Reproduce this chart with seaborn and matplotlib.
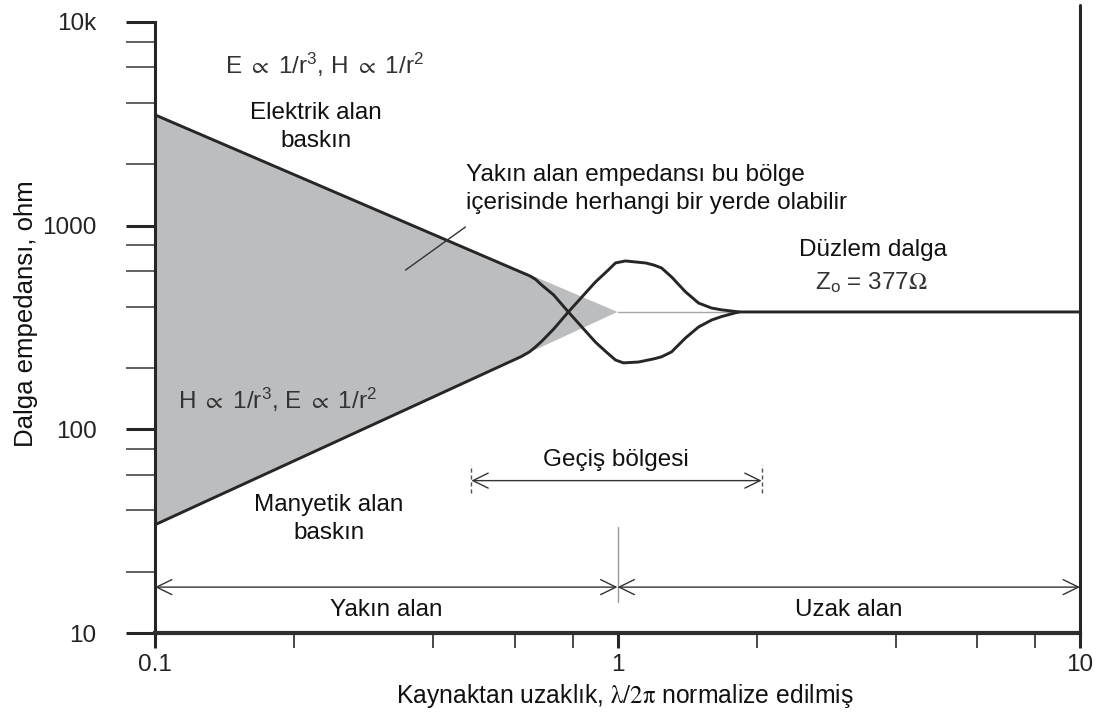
import matplotlib
matplotlib.use("Agg")
import matplotlib.pyplot as plt
from matplotlib.ticker import FixedLocator, FixedFormatter, LogLocator, NullFormatter
import seaborn as sns

# Wave impedance versus normalized distance from the source
z0 = 377  # plane-wave impedance, ohm

# Electric-field-dominated source (high impedance, falling toward Z0)
upper_x = [0.1, 0.62, 0.645, 0.665, 0.685, 0.727, 0.783, 0.896, 0.951, 0.99,
           1.03, 1.11, 1.2, 1.245, 1.309, 1.403, 1.497, 1.597, 1.68, 1.765,
           1.83, 10.0]
upper_y = [3500, 590, 568, 545, 512, 458, 377, 268, 237, 219,
           212, 214, 222, 227, 240, 281, 318, 344, 358, 369,
           377, 377]

# Magnetic-field-dominated source (low impedance, rising toward Z0)
lower_x = [0.1, 0.62, 0.645, 0.665, 0.685, 0.727, 0.783, 0.896, 0.951, 0.99,
           1.04, 1.15, 1.2, 1.245, 1.309, 1.403, 1.497, 1.597, 1.68, 1.765,
           1.83]
lower_y = [34, 228, 240, 254, 270, 310, 377, 529, 600, 656,
           671, 656, 640, 620, 560, 473, 417, 394, 386, 381,
           377]

# Near-field region where the impedance may lie anywhere
region_x = [0.1, 1.0, 0.1]
region_y = [3500, 377, 34]

x_ticks = [0.1, 1, 10]
x_tick_labels = ["0.1", "1", "10"]
y_ticks = [10, 100, 1000, 10000]
y_tick_labels = ["10", "100", "1000", "10k"]

near_far_boundary = 1.0
transition_start, transition_end = 0.483, 2.05

sns.set_theme(style="white")
plt.rcParams["font.family"] = ["Liberation Sans", "DejaVu Sans"]
plt.rcParams["mathtext.fontset"] = "stix"
plt.rcParams["mathtext.default"] = "regular"

ink = "#262626"
txt = "#111111"

fig = plt.figure(figsize=(11.13, 7.13), dpi=100)
ax = fig.add_axes([155 / 1113, 80 / 713, 925 / 1113, 611 / 713])
ax.set_xscale("log")
ax.set_yscale("log")

ax.fill(region_x, region_y, color="#bcbdbf", lw=0, zorder=1)
ax.plot([near_far_boundary, upper_x[-2]], [z0, z0], color="#a6a6a6", lw=1.0, zorder=2)
line_kw = dict(sort=False, estimator=None, color=ink, lw=2.1, ax=ax, zorder=3)
sns.lineplot(x=upper_x, y=upper_y, **line_kw)
sns.lineplot(x=lower_x, y=lower_y, **line_kw)
for ln in ax.lines:
    ln.set_solid_joinstyle("round")

ax.set_xlim(0.1, 10)
ax.set_ylim(10, 10000)

# Axis ticks
ax.xaxis.set_major_locator(FixedLocator(x_ticks))
ax.xaxis.set_major_formatter(FixedFormatter(x_tick_labels))
ax.xaxis.set_minor_locator(LogLocator(base=10, subs=(2, 4, 6, 8)))
ax.xaxis.set_minor_formatter(NullFormatter())
ax.yaxis.set_major_locator(FixedLocator(y_ticks))
ax.yaxis.set_major_formatter(FixedFormatter(y_tick_labels))
ax.yaxis.set_minor_locator(LogLocator(base=10, subs=(2, 4, 6, 8)))
ax.yaxis.set_minor_formatter(NullFormatter())

ax.tick_params(which="both", bottom=True, left=True, top=False, right=False,
               direction="out")
ax.tick_params(axis="x", which="major", length=11, width=2.2, color=ink,
               labelsize=17.5, pad=4, labelcolor="#222222")
ax.tick_params(axis="x", which="minor", length=11, width=1.3, color="#3a3a3a")
ax.tick_params(axis="y", which="major", length=21, width=2.2, color=ink,
               labelsize=17.5, pad=21, labelcolor="#222222")
ax.tick_params(axis="y", which="minor", length=21, width=1.3, color="#555555")

for side in ("top", "right"):
    ax.spines[side].set_visible(False)
ax.spines["left"].set_linewidth(2.2)
ax.spines["left"].set_color(ink)
ax.spines["bottom"].set_linewidth(3.0)
ax.spines["bottom"].set_color("#2e2e2e")
ax.plot([1, 1], [0, 1.028], transform=ax.transAxes, clip_on=False,
        color=ink, lw=2.2, zorder=4)

ax.set_xlabel(r"Kaynaktan uzaklık, $\mathrm{\lambda/2\pi}$ normalize edilmiş",
              fontsize=17.8, color=txt)
ax.xaxis.set_label_coords(0.508, -0.080)
ax.set_ylabel("Dalga empedansı, ohm", fontsize=18.5, color=txt)
ax.yaxis.set_label_coords(-0.127, 0.522)

# Region labels
fs = 17.5
ls2 = 1.3
ax.text(0.233, 6140, r"E $\mathrm{\propto}$ 1/r$^{3}$, H $\mathrm{\propto}$ 1/r$^{2}$",
        ha="center", va="center", fontsize=fs, color="#333333")
ax.text(0.223, 3050, "Elektrik alan\nbaskın", ha="center", va="center",
        fontsize=fs, color=txt, linespacing=ls2)
ax.text(0.471, 1514, "Yakın alan empedansı bu bölge\niçerisinde herhangi bir yerde olabilir",
        ha="left", va="center", fontsize=fs, color=txt, linespacing=ls2)
ax.plot([0.348, 0.469], [605, 985], color="#333333", lw=1.0, zorder=4)
ax.text(3.56, 759, "Düzlem dalga", ha="center", va="center", fontsize=fs, color=txt)
ax.text(3.54, 528, r"Z$_{o}$ = 377$\mathrm{\Omega}$", ha="center", va="center",
        fontsize=fs, color="#333333")
ax.text(0.1837, 139, r"H $\mathrm{\propto}$ 1/r$^{3}$, E $\mathrm{\propto}$ 1/r$^{2}$",
        ha="center", va="center", fontsize=fs, color="#333333")
ax.text(0.238, 36.3, "Manyetik alan\nbaskın", ha="center", va="center",
        fontsize=fs, color=txt, linespacing=ls2)

# Transition region span
arrow_kw = dict(arrowstyle="<->,head_length=0.55,head_width=0.27", color="#333333",
                lw=1.0, shrinkA=0, shrinkB=0, mutation_scale=20)
ax.annotate("", xy=(transition_end, 56), xytext=(transition_start, 56),
            arrowprops=arrow_kw)
for xe in (transition_start, transition_end):
    ax.plot([xe, xe], [48.6, 66.8], color="#555555", lw=1.0, ls=(0, (3, 2)))
ax.text(0.99, 70.6, "Geçiş bölgesi", ha="center", va="center", fontsize=fs, color=txt)

# Near / far field spans
ax.plot([near_far_boundary, near_far_boundary], [14.2, 33], color="#9a9a9a", lw=1.0)
ax.annotate("", xy=(near_far_boundary, 16.8), xytext=(0.1, 16.8), arrowprops=arrow_kw)
ax.annotate("", xy=(10, 16.8), xytext=(near_far_boundary, 16.8), arrowprops=arrow_kw)
ax.text(0.316, 12.97, "Yakın alan", ha="center", va="center", fontsize=fs, color=txt)
ax.text(3.16, 12.97, "Uzak alan", ha="center", va="center", fontsize=fs, color=txt)

fig.savefig("out.png", dpi=100)
